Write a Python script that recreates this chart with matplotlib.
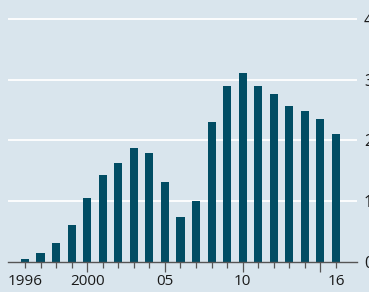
import matplotlib
matplotlib.use("Agg")
import matplotlib.pyplot as plt
import numpy as np

# data
years = list(range(1996, 2017))
values = [0.05, 0.14, 0.32, 0.61, 1.05, 1.43, 1.63, 1.88, 1.80, 1.32, 0.74,
          1.00, 2.30, 2.89, 3.11, 2.89, 2.76, 2.56, 2.48, 2.35, 2.11]
xtick_years = [1996, 2000, 2005, 2010, 2016]
xtick_labels = ["1996", "2000", "05", "10", "16"]
ytick_values = [0, 1, 2, 3, 4]

BG = "#d9e5ed"
BAR = "#014d64"

plt.rcParams["font.family"] = ["Open Sans", "DejaVu Sans"]

fig = plt.figure(figsize=(3.69, 2.92), dpi=100, facecolor=BG)
ax = fig.add_axes([8 / 369, 30 / 292, 349 / 369, (262 - 6.6) / 292])
ax.set_facecolor(BG)

ax.bar(years, values, width=0.52, color=BAR, zorder=3)

ax.set_xlim(1994.91, 2017.35)
ax.set_ylim(0, 4.2)

for v in ytick_values[1:]:
    ax.axhline(v, color="white", lw=1.3, zorder=1)

for s in ["top", "left", "right"]:
    ax.spines[s].set_visible(False)
ax.spines["bottom"].set_color("#555555")
ax.spines["bottom"].set_linewidth(1.0)
ax.spines["bottom"].set_zorder(4)

ax.yaxis.tick_right()
ax.set_yticks(ytick_values)
ax.set_yticklabels([str(v) for v in ytick_values])
ax.tick_params(axis="y", length=0, pad=5, labelsize=11.5, labelcolor="#1a1a1a")

minor = [y for y in years if y not in (2000, 2005, 2010, 2015)]
ax.set_xticks([2000, 2005, 2010, 2015])
ax.set_xticklabels([])
ax.set_xticks(minor, minor=True)
ax.tick_params(axis="x", which="major", length=7, width=0.9, color="#555555")
ax.tick_params(axis="x", which="minor", length=4.5, width=0.9, color="#555555")

for yr, lab in zip(xtick_years, xtick_labels):
    ax.text(yr, -0.19, lab, ha="center", va="top", fontsize=11,
            color="#1a1a1a", transform=ax.transData)

fig.savefig("out.png", dpi=100, facecolor=BG)
